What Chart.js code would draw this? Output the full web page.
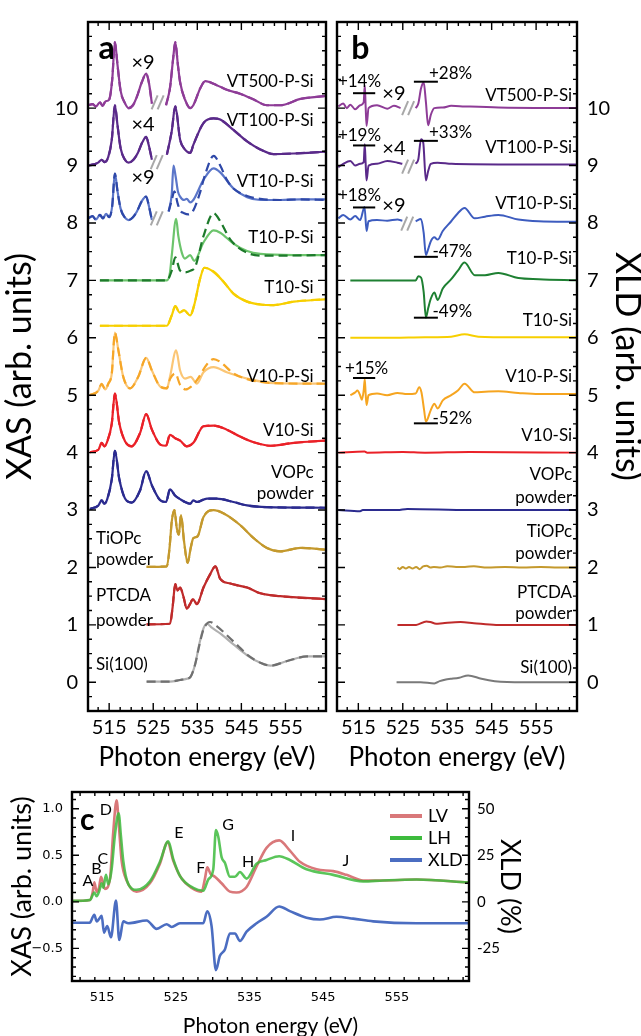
<!DOCTYPE html>
<html>
<head>
<meta charset="utf-8">
<script src="https://cdn.jsdelivr.net/npm/chart.js@4.4.0/dist/chart.umd.min.js"></script>
<style>
  body { margin: 0; background: #fff; width: 641px; height: 1036px; position: relative; overflow: hidden; }
  canvas { position: absolute; }
</style>
</head>
<body>
<canvas id="chartA" width="332" height="775" style="left:0;top:0;width:332px;height:775px"></canvas>
<canvas id="chartB" width="309" height="775" style="left:332px;top:0;width:309px;height:775px"></canvas>
<canvas id="chartC" width="641" height="261" style="left:0;top:775px;width:641px;height:261px"></canvas>
<script>
const FAM = 'Lato, "Open Sans", sans-serif';

// axis ticks
const energyTicks = [515, 525, 535, 545, 555];
const stackTicks = [0, 1, 2, 3, 4, 5, 6, 7, 8, 9, 10];
const xasTicksC = [-0.5, 0, 0.5, 1.0];
const xldTicksC = [-25, 0, 25, 50];

// ---------- panel a: XAS, solid / dashed, stacked by offset ----------
// VT500-P-Si (offset 10): pre-edge (x9) and edge parts
const vt500E1 = [510.3, 511.2, 512.0, 512.9, 513.5, 514.2, 515.0, 515.7, 516.3, 516.9, 517.6, 518.5, 519.4, 520.4, 521.3, 522.4, 523.4, 524.0, 524.7];
const vt500A1 = [0.05, 0.07, 0.03, 0.10, 0.04, 0.12, 0.15, 0.50, 1.15, 0.75, 0.30, 0.10, 0.00, 0.05, 0.20, 0.45, 0.60, 0.45, 0.08];
const vt500E2 = [527.9, 528.8, 529.5, 530.0, 530.6, 531.1, 532.2, 533.4, 534.1, 535.7, 536.8, 539.4, 541.7, 544.7, 547.8, 550.8, 553.8, 558.4, 564.0];
const vt500A2 = [0.05, 0.35, 0.85, 1.15, 0.75, 0.45, 0.15, 0.00, 0.05, 0.35, 0.47, 0.40, 0.32, 0.25, 0.15, 0.05, 0.05, 0.16, 0.21];
// VT100-P-Si (offset 9)
const vt100E1 = [510.3, 511.5, 512.5, 513.3, 514.0, 514.8, 515.6, 516.3, 516.9, 517.6, 518.6, 519.4, 520.5, 521.5, 522.5, 523.4, 524.0, 524.7];
const vt100A1 = [0.00, 0.02, 0.05, 0.10, 0.06, 0.15, 0.45, 1.05, 0.70, 0.30, 0.10, 0.05, 0.10, 0.22, 0.40, 0.50, 0.35, 0.10];
const vt100E2 = [528.1, 529.2, 530.0, 531.1, 532.0, 533.4, 534.1, 536.4, 538.7, 540.2, 543.2, 546.3, 549.3, 552.3, 556.9, 564.0];
const vt100A2 = [0.19, 0.60, 1.03, 0.45, 0.30, 0.22, 0.36, 0.74, 0.82, 0.80, 0.62, 0.42, 0.28, 0.20, 0.21, 0.24];
// VT10-P-Si (offset 8)
const vt10E1 = [510.3, 511.2, 512.0, 512.9, 513.6, 514.3, 515.0, 515.7, 516.3, 516.9, 517.6, 518.5, 519.4, 520.4, 521.3, 522.4, 523.4, 524.0, 524.7];
const vt10A1 = [0.08, 0.12, 0.06, 0.14, 0.08, 0.16, 0.10, 0.30, 0.86, 0.55, 0.25, 0.10, 0.05, 0.10, 0.20, 0.38, 0.46, 0.30, 0.05];
const vt10E2 = [528.5, 529.2, 529.6, 530.1, 530.6, 531.1, 532.0, 532.6, 533.4, 534.1, 536.4, 538.7, 540.2, 543.2, 546.3, 549.3, 553.8, 558.4, 564.0];
const vt10Solid = [0.20, 0.50, 1.00, 0.80, 0.55, 0.46, 0.40, 0.42, 0.36, 0.40, 0.75, 0.95, 0.88, 0.60, 0.45, 0.40, 0.40, 0.41, 0.41];
const vt10E3 = [528.5, 529.2, 529.8, 530.5, 531.1, 532.0, 533.0, 534.1, 535.5, 536.8, 538.7, 540.2, 541.7, 543.2, 546.3, 549.3, 553.8, 558.4, 564.0];
const vt10Dash = [0.20, 0.40, 0.55, 0.35, 0.22, 0.17, 0.15, 0.22, 0.50, 0.85, 1.17, 1.00, 0.75, 0.60, 0.47, 0.42, 0.40, 0.41, 0.40];
// T10-P-Si (offset 7)
const t10pE1 = [512.9, 520.0, 528.1, 528.8, 529.2, 530.2, 530.7, 531.5, 532.2, 533.4, 534.3, 536.4, 538.7, 540.2, 543.2, 546.3, 549.3, 556.9, 564.0];
const t10pSolid = [0, 0, 0, 0.14, 0.43, 1.07, 0.77, 0.48, 0.38, 0.44, 0.34, 0.66, 0.87, 0.83, 0.64, 0.51, 0.46, 0.44, 0.44];
const t10pE2 = [512.9, 520.0, 528.1, 529.2, 530.0, 531.1, 532.2, 533.5, 534.5, 536.4, 538.7, 540.2, 542.5, 546.3, 550.8, 564.0];
const t10pDash = [0, 0, 0, 0.17, 0.40, 0.17, 0.14, 0.17, 0.23, 0.77, 1.17, 1.03, 0.71, 0.48, 0.43, 0.44];
// T10-Si (offset 6)
const t10E = [512.9, 528.1, 529.2, 530.0, 531.0, 532.0, 533.4, 534.3, 535.6, 536.6, 538.7, 541.0, 543.2, 546.3, 549.3, 552.3, 556.9, 564.0];
const t10A = [0.21, 0.21, 0.39, 0.55, 0.44, 0.48, 0.39, 0.57, 1.02, 1.22, 1.15, 0.97, 0.77, 0.63, 0.58, 0.57, 0.63, 0.67];
// V10-P-Si (offset 5)
const v10pE1 = [510.65, 512.55, 513.3, 514.1, 514.8, 515.6, 516.3, 517.1, 518.2, 519.75, 521.6, 523.4, 524.7, 526.6, 528.1, 528.8, 530.2, 531.1, 532.2, 533.5, 534.9, 536.4, 538.7, 541.7, 546.3, 552.3, 564.0];
const v10pSolid = [0, 0.08, 0.20, 0.10, 0.20, 0.38, 1.09, 0.78, 0.32, 0.12, 0.32, 0.65, 0.43, 0.15, 0.12, 0.32, 0.78, 0.43, 0.29, 0.32, 0.20, 0.40, 0.49, 0.40, 0.29, 0.21, 0.20];
const v10pE2 = [510.65, 512.55, 513.3, 514.1, 514.8, 515.6, 516.3, 517.1, 518.2, 519.75, 521.6, 523.4, 524.7, 526.6, 528.1, 528.8, 530.0, 531.1, 532.4, 533.6, 534.9, 537.2, 538.7, 540.2, 543.2, 546.3, 552.3, 564.0];
const v10pDash = [0, 0.08, 0.20, 0.10, 0.20, 0.38, 1.09, 0.78, 0.32, 0.12, 0.32, 0.65, 0.43, 0.15, 0.12, 0.28, 0.38, 0.18, 0.10, 0.15, 0.26, 0.54, 0.63, 0.58, 0.38, 0.28, 0.21, 0.20];
// V10-Si (offset 4)
const v10E = [510.65, 512.55, 513.3, 513.9, 514.6, 515.6, 516.3, 517.3, 518.6, 520.1, 522.0, 523.4, 524.7, 526.6, 527.9, 528.8, 530.0, 531.1, 532.6, 534.1, 536.4, 538.7, 541.7, 544.7, 547.8, 551.6, 556.9, 564.0];
const v10A = [0.01, 0.05, 0.17, 0.11, 0.20, 0.51, 1.03, 0.51, 0.20, 0.11, 0.34, 0.67, 0.40, 0.14, 0.12, 0.31, 0.25, 0.21, 0.11, 0.17, 0.46, 0.47, 0.40, 0.28, 0.18, 0.12, 0.17, 0.21];
// VOPc powder (offset 3)
const vopcE = [510.65, 512.55, 513.3, 513.9, 514.6, 515.6, 516.3, 517.3, 518.6, 520.1, 522.0, 523.4, 524.7, 526.6, 527.9, 528.8, 530.0, 531.3, 532.2, 533.4, 534.1, 534.9, 537.2, 539.4, 543.2, 546.3, 550.8, 564.0];
const vopcA = [0.02, 0.08, 0.17, 0.11, 0.20, 0.54, 1.03, 0.54, 0.20, 0.13, 0.34, 0.68, 0.43, 0.17, 0.14, 0.36, 0.25, 0.18, 0.14, 0.11, 0.17, 0.14, 0.20, 0.20, 0.14, 0.08, 0.05, 0.04];
// TiOPc powder (offset 2)
const tiopcE = [523.5, 528.1, 528.7, 529.2, 529.8, 530.35, 530.8, 531.3, 532.0, 532.8, 533.5, 534.1, 535.05, 536.4, 538.7, 541.0, 544.7, 547.8, 550.8, 553.8, 558.4, 564.0];
const tiopcA = [0.01, 0.02, 0.34, 0.80, 1.00, 0.68, 0.57, 0.91, 0.45, 0.08, 0.34, 0.51, 0.54, 0.88, 1.00, 0.94, 0.74, 0.51, 0.34, 0.28, 0.34, 0.31];
// PTCDA powder (offset 1)
const ptcdaE = [523.5, 528.8, 529.4, 530.0, 530.5, 531.1, 531.9, 532.6, 533.4, 534.0, 534.9, 536.4, 537.9, 539.1, 540.2, 542.5, 544.7, 546.3, 549.3, 553.8, 564.0];
const ptcdaA = [0.01, 0.02, 0.31, 0.71, 0.60, 0.65, 0.48, 0.28, 0.37, 0.45, 0.36, 0.65, 0.88, 1.02, 0.80, 0.72, 0.68, 0.65, 0.55, 0.50, 0.45];
// Si(100) (offset 0)
const siE1 = [523.5, 528.8, 531.1, 532.5, 533.5, 534.5, 535.5, 536.4, 537.2, 538.3, 540.2, 543.2, 546.3, 549.3, 551.6, 555.4, 559.9, 564.0];
const siSolid = [0.01, 0.01, 0.04, 0.06, 0.10, 0.31, 0.68, 0.94, 1.02, 0.95, 0.85, 0.66, 0.47, 0.34, 0.29, 0.37, 0.45, 0.45];
const siE2 = [523.5, 528.8, 531.1, 532.5, 533.5, 534.5, 535.5, 536.4, 537.9, 539.4, 541.7, 544.7, 546.3, 549.3, 551.6, 555.4, 559.9, 564.0];
const siDash = [0.01, 0.01, 0.04, 0.06, 0.10, 0.31, 0.66, 0.92, 1.05, 0.98, 0.82, 0.60, 0.48, 0.34, 0.29, 0.37, 0.45, 0.45];

// ---------- panel b: XLD, stacked by offset ----------
const vt500XE1 = [510.5, 511.6, 512.4, 513.2, 514.3, 515.4, 516.2, 516.45, 516.65, 516.85, 517.3, 519.2, 521.5, 523.0, 524.5];
const vt500X1 = [0.03, 0.08, 0.00, 0.06, -0.02, 0.05, 0.10, 0.40, 0.02, -0.31, 0.00, 0.05, -0.01, 0.04, 0.00];
const vt500XE2 = [527.9, 528.5, 529.1, 529.7, 530.2, 530.7, 531.3, 532.1, 534.0, 535.9, 538.9, 546.5, 564.2];
const vt500X2 = [0.00, 0.08, 0.34, 0.45, 0.11, -0.30, -0.12, 0.00, 0.01, 0.04, 0.03, 0.01, 0.00];
const vt100XE1 = [510.5, 511.6, 513.2, 514.3, 515.4, 516.2, 516.45, 516.65, 516.85, 517.3, 519.2, 521.5, 523.8, 524.9];
const vt100X1 = [-0.03, 0.03, 0.08, 0.00, 0.03, 0.06, 0.37, 0.03, -0.26, 0.00, 0.03, 0.08, 0.05, 0.03];
const vt100XE2 = [527.9, 528.5, 529.1, 529.6, 530.2, 530.7, 531.3, 532.8, 536.0, 546.5, 564.2];
const vt100X2 = [0.03, 0.11, 0.46, 0.40, -0.26, -0.10, 0.03, 0.05, 0.03, 0.02, 0.02];
const vt10XE1 = [510.5, 511.6, 513.2, 514.3, 515.4, 516.4, 516.85, 517.3, 519.2, 521.5, 523.8, 524.9];
const vt10X1 = [0.08, 0.14, 0.06, 0.12, 0.05, 0.28, -0.14, 0.03, 0.05, 0.04, 0.06, 0.04];
const vt10XE2 = [527.9, 529.1, 529.7, 530.2, 530.7, 531.3, 532.1, 532.85, 534.0, 535.9, 537.4, 538.9, 541.2, 543.5, 546.5, 551.0, 555.6, 564.2];
const vt10X2 = [0.03, 0.07, -0.17, -0.56, -0.46, -0.32, -0.25, -0.29, -0.14, 0.03, 0.17, 0.26, 0.08, 0.11, 0.14, 0.06, 0.03, 0.02];
const t10pXE = [513.2, 527.9, 528.5, 529.1, 529.7, 530.2, 530.7, 531.3, 532.1, 532.85, 534.0, 535.9, 537.4, 538.9, 541.2, 543.5, 546.5, 551.0, 555.6, 564.2];
const t10pX = [0, 0, 0.07, 0.05, -0.20, -0.65, -0.49, -0.32, -0.21, -0.34, -0.14, 0.02, 0.17, 0.31, 0.09, 0.09, 0.13, 0.04, 0.02, 0.00];
const t10XE = [513.2, 520.0, 530.0, 535.9, 538.9, 542.0, 550.0, 564.2];
const t10X = [0, 0, 0.01, 0.02, 0.06, 0.02, 0.01, 0.01];
const v10pXE = [513.2, 514.3, 514.8, 515.4, 515.8, 516.2, 516.45, 516.65, 516.85, 517.3, 519.2, 521.5, 523.8, 526.0, 527.9, 528.7, 529.2, 529.8, 530.2, 531.3, 532.1, 532.85, 534.0, 535.9, 537.4, 538.9, 541.2, 543.5, 546.5, 551.0, 555.6, 564.2];
const v10pX = [0, 0.05, 0.08, 0.00, -0.08, 0.08, 0.28, 0.02, -0.17, 0, 0.03, 0.00, 0.04, 0.02, 0.03, 0.14, 0.05, -0.26, -0.46, -0.26, -0.15, -0.23, -0.09, 0.00, 0.08, 0.20, 0.05, 0.06, 0.07, 0.04, 0.02, 0.02];
const v10XE = [510.5, 516.4, 517.0, 525.0, 530.0, 540.0, 564.2];
const v10X = [0, 0.02, 0.00, 0.01, 0.00, 0.01, 0.00];
const vopcXE = [510.5, 515.4, 516.0, 523.8, 526.0, 540.0, 564.2];
const vopcX = [0, -0.02, 0.00, 0.00, 0.02, 0.00, 0.00];
const tiopcXE = [523.8, 524.3, 525.0, 525.7, 526.4, 527.2, 528.0, 528.8, 529.6, 530.4, 531.2, 532.0, 533.5, 535.0, 537.0, 539.0, 541.0, 544.0, 548.0, 552.0, 556.0, 560.0, 564.2];
const tiopcX = [0, -0.03, 0.01, -0.02, 0.01, -0.02, 0.01, -0.03, 0.02, 0.03, 0.00, 0.01, 0.00, 0.02, 0.01, 0.01, 0.02, 0.00, 0.01, 0.00, 0.01, 0.00, 0.00];
const ptcdaXE = [523.8, 528.0, 530.3, 531.2, 532.5, 534.0, 538.0, 541.0, 546.0, 564.2];
const ptcdaX = [0, 0.00, 0.06, 0.05, 0.02, 0.03, 0.05, 0.03, 0.00, 0.00];
const siXE = [523.6, 529.0, 532.1, 533.3, 534.7, 535.8, 537.7, 539.7, 542.7, 545.7, 552.0, 564.2];
const siX = [0, 0, -0.02, 0.02, 0.05, 0.06, 0.08, 0.12, 0.06, 0.02, 0.00, 0.00];

// ---------- panel c: VOPc LV / LH (XAS) and XLD (%) ----------
const lvE = [510.9, 513.34, 513.7, 513.93, 514.25, 514.56, 514.84, 515.38, 516.06, 516.5, 516.96, 517.28, 517.64, 518.32, 519.67, 521.48, 522.84, 523.88, 524.65, 525.78, 527.14, 528.49, 528.95, 529.26, 529.72, 530.3, 531.21, 532.34, 533.24, 534.6, 535.96, 537.31, 539.03, 540.48, 541.84, 544.1, 546.36, 548.17, 550.43, 553.14, 557.67, 564.68];
const lvA = [0.01, 0.02, 0.10, 0.21, 0.11, 0.15, 0.27, 0.14, 0.25, 0.75, 1.09, 0.80, 0.44, 0.23, 0.11, 0.20, 0.41, 0.64, 0.44, 0.25, 0.15, 0.11, 0.25, 0.37, 0.30, 0.27, 0.20, 0.11, 0.10, 0.16, 0.38, 0.58, 0.66, 0.55, 0.43, 0.35, 0.33, 0.29, 0.23, 0.23, 0.24, 0.21];
const lhE = [510.9, 513.34, 513.93, 514.25, 514.61, 514.93, 515.15, 515.51, 515.83, 516.28, 516.73, 517.23, 517.55, 517.86, 518.54, 519.67, 521.48, 522.84, 523.97, 524.65, 525.55, 527.36, 528.72, 529.4, 530.08, 530.44, 530.76, 531.21, 531.66, 532.34, 533.02, 533.7, 534.6, 535.96, 537.31, 539.03, 540.48, 542.74, 546.36, 550.43, 553.14, 557.67, 564.68];
const lhA = [0.01, 0.02, 0.10, 0.06, 0.12, 0.20, 0.15, 0.29, 0.19, 0.35, 0.72, 0.95, 0.70, 0.44, 0.19, 0.13, 0.22, 0.43, 0.65, 0.46, 0.28, 0.15, 0.12, 0.24, 0.35, 0.77, 0.70, 0.48, 0.42, 0.27, 0.27, 0.32, 0.25, 0.41, 0.45, 0.49, 0.45, 0.35, 0.29, 0.22, 0.23, 0.24, 0.21];
const xldE = [510.9, 513.3, 513.93, 514.25, 514.61, 514.93, 515.24, 515.69, 516.19, 516.87, 517.32, 517.86, 518.54, 521.03, 522.39, 523.75, 524.42, 525.55, 528.72, 529.26, 529.85, 530.44, 530.98, 531.66, 532.34, 533.02, 533.7, 534.6, 535.96, 537.31, 539.03, 540.48, 542.74, 544.55, 546.81, 549.07, 551.79, 557.67, 564.68];
const xldPct = [-11.2, -11.2, -6.9, -10.5, -9.0, -7.5, -16.5, -13.0, -19.0, 0.7, -20.5, -10.5, -11.5, -10.0, -14.5, -12.0, -13.5, -11.5, -11.5, -5.1, -13.0, -36.7, -29.0, -25.6, -17.0, -17.0, -21.0, -16.0, -11.5, -8.0, -2.5, -5.0, -8.5, -9.5, -8.0, -9.0, -10.5, -11.5, -11.5];

// ---------- helpers ----------
function pts(E, v, off) {
  return E.map((e, i) => ({ x: e, y: v[i] + off }));
}
function line(E, v, off, color, dashed, width, order) {
  return {
    data: pts(E, v, off),
    borderColor: color,
    borderWidth: width || 2.2,
    borderDash: dashed ? [9, 5] : [],
    pointRadius: 0,
    tension: 0.35,
    cubicInterpolationMode: 'monotone',
    fill: false,
    order: order || 0,
  };
}
function tickList(from, to, step, majors, long, short) {
  const out = [];
  for (let v = from; v <= to + 1e-9; v += step) {
    const r = Math.round(v * 1000) / 1000;
    out.push([r, majors.some(m => Math.abs(m - r) < 1e-6) ? long : short]);
  }
  return out;
}

// inward ticks on all four sides plus the box
function frame(xTicks, yTicks) {
  return {
    id: 'frame',
    afterDatasetsDraw(chart) {
      const { ctx, chartArea: a } = chart;
      const xs = chart.scales.x, ys = chart.scales.y;
      ctx.save();
      ctx.strokeStyle = '#000';
      ctx.lineWidth = 1.4;
      ctx.beginPath();
      xTicks.forEach(([v, len]) => {
        const p = xs.getPixelForValue(v);
        ctx.moveTo(p, a.bottom); ctx.lineTo(p, a.bottom - len);
        ctx.moveTo(p, a.top); ctx.lineTo(p, a.top + len);
      });
      yTicks.forEach(([v, len]) => {
        const p = ys.getPixelForValue(v);
        ctx.moveTo(a.left, p); ctx.lineTo(a.left + len, p);
        ctx.moveTo(a.right, p); ctx.lineTo(a.right - len, p);
      });
      ctx.stroke();
      ctx.lineWidth = 2.4;
      ctx.strokeRect(a.left, a.top, a.width, a.height);
      ctx.restore();
    }
  };
}

// text, percent bars and "//" break marks placed in data coordinates
function notes(texts, bars, breaks) {
  return {
    id: 'notes',
    afterDatasetsDraw(chart) {
      const ctx = chart.ctx;
      ctx.save();
      ctx.textBaseline = 'middle';
      texts.forEach(n => {
        const xs = chart.scales.x, ys = chart.scales[n.axis || 'y'];
        ctx.font = n.font;
        ctx.fillStyle = '#000';
        ctx.textAlign = n.align || 'left';
        ctx.fillText(n.text, xs.getPixelForValue(n.x), ys.getPixelForValue(n.y));
      });
      ctx.strokeStyle = '#000';
      ctx.lineWidth = 2;
      bars.forEach(b => {
        const y = chart.scales.y.getPixelForValue(b[2]);
        ctx.beginPath();
        ctx.moveTo(chart.scales.x.getPixelForValue(b[0]), y);
        ctx.lineTo(chart.scales.x.getPixelForValue(b[1]), y);
        ctx.stroke();
      });
      ctx.strokeStyle = '#a8a8a8';
      ctx.lineWidth = 2;
      breaks.forEach(b => {
        const cx = chart.scales.x.getPixelForValue(b[0]);
        const cy = chart.scales.y.getPixelForValue(b[1]);
        [-3, 3].forEach(dx => {
          ctx.beginPath();
          ctx.moveTo(cx + dx - 3, cy + 7);
          ctx.lineTo(cx + dx + 3, cy - 7);
          ctx.stroke();
        });
      });
      ctx.restore();
    }
  };
}

const labFont = '17px ' + FAM;
const multFont = '20px ' + FAM;
const pctFont = '17px ' + FAM;

// ---------- panel a ----------
const colA = {
  vt500: '#8e3c97', vt100: '#5a2a8a', vt10s: '#5b76c9', vt10d: '#2e48a8',
  t10ps: '#6cc46c', t10pd: '#1d7a2b', t10: '#f7cf00', v10ps: '#fbc675', v10pd: '#f6a628',
  v10: '#ea2128', vopc: '#2b2b8f', tiopc: '#c4992d', ptcda: '#bf2b2b', sis: '#b0b0b0', sid: '#707070'
};

const dsA = [
  line(vt500E1, vt500A1, 10, colA.vt500, false, 2.2, 1), line(vt500E1, vt500A1, 10, colA.vt500, true, 2.2, 0),
  line(vt500E2, vt500A2, 10, colA.vt500, false, 2.2, 1), line(vt500E2, vt500A2, 10, colA.vt500, true, 2.2, 0),
  line(vt100E1, vt100A1, 9, colA.vt100, false, 2.2, 1), line(vt100E1, vt100A1, 9, colA.vt100, true, 2.2, 0),
  line(vt100E2, vt100A2, 9, colA.vt100, false, 2.2, 1), line(vt100E2, vt100A2, 9, colA.vt100, true, 2.2, 0),
  line(vt10E1, vt10A1, 8, colA.vt10s, false, 2.2, 1), line(vt10E1, vt10A1, 8, colA.vt10d, true, 2.2, 0),
  line(vt10E2, vt10Solid, 8, colA.vt10s, false, 2.2, 1), line(vt10E3, vt10Dash, 8, colA.vt10d, true, 2.2, 0),
  line(t10pE1, t10pSolid, 7, colA.t10ps, false, 2.2, 1), line(t10pE2, t10pDash, 7, colA.t10pd, true, 2.2, 0),
  line(t10E, t10A, 6, colA.t10, false, 2.2, 1), line(t10E, t10A, 6, colA.t10, true, 2.2, 0),
  line(v10pE1, v10pSolid, 5, colA.v10ps, false, 2.2, 1), line(v10pE2, v10pDash, 5, colA.v10pd, true, 2.2, 0),
  line(v10E, v10A, 4, colA.v10, false, 2.2, 1), line(v10E, v10A, 4, colA.v10, true, 2.2, 0),
  line(vopcE, vopcA, 3, colA.vopc, false, 2.2, 1), line(vopcE, vopcA, 3, colA.vopc, true, 2.2, 0),
  line(tiopcE, tiopcA, 2, colA.tiopc, false, 2.2, 1), line(tiopcE, tiopcA, 2, colA.tiopc, true, 2.2, 0),
  line(ptcdaE, ptcdaA, 1, colA.ptcda, false, 2.2, 1), line(ptcdaE, ptcdaA, 1, colA.ptcda, true, 2.2, 0),
  line(siE1, siSolid, 0, colA.sis, false, 2.2, 1), line(siE2, siDash, 0, colA.sid, true, 2.2, 0),
];

const textA = [
  { text: 'a', x: 512.6, y: 11.03, font: 'bold 32px ' + FAM },
  { text: '\u00d79', x: 522.7, y: 10.8, font: multFont, align: 'center' },
  { text: '\u00d74', x: 522.7, y: 9.72, font: multFont, align: 'center' },
  { text: '\u00d79', x: 522.7, y: 8.79, font: multFont, align: 'center' },
  { text: 'VT500-P-Si', x: 561.4, y: 10.46, font: labFont, align: 'right' },
  { text: 'VT100-P-Si', x: 561.4, y: 9.79, font: labFont, align: 'right' },
  { text: 'VT10-P-Si', x: 561.4, y: 8.73, font: labFont, align: 'right' },
  { text: 'T10-P-Si', x: 561.4, y: 7.74, font: labFont, align: 'right' },
  { text: 'T10-Si', x: 561.4, y: 6.88, font: labFont, align: 'right' },
  { text: 'V10-P-Si', x: 561.4, y: 5.33, font: labFont, align: 'right' },
  { text: 'V10-Si', x: 561.4, y: 4.39, font: labFont, align: 'right' },
  { text: 'VOPc', x: 561.4, y: 3.65, font: labFont, align: 'right' },
  { text: 'powder', x: 561.4, y: 3.28, font: labFont, align: 'right' },
  { text: 'TiOPc', x: 512.0, y: 2.50, font: labFont },
  { text: 'powder', x: 512.0, y: 2.14, font: labFont },
  { text: 'PTCDA', x: 512.0, y: 1.51, font: labFont },
  { text: 'powder', x: 512.0, y: 1.08, font: labFont },
  { text: 'Si(100)', x: 512.0, y: 0.31, font: labFont },
];
const breaksA = [[526.0, 10.1], [525.8, 9.06], [525.8, 8.08]];

const stackX = (h) => ({
  type: 'linear', min: 510.2, max: 564.2,
  afterBuildTicks: s => { s.ticks = energyTicks.map(v => ({ value: v })); },
  afterFit: s => { s.height = h; },
  grid: { display: false, drawTicks: false }, border: { display: false },
  ticks: { color: '#000', font: { family: FAM, size: 20 }, padding: 5, maxRotation: 0, autoSkip: false },
  title: { display: true, text: 'Photon energy (eV)', color: '#000', font: { family: FAM, size: 26 }, padding: { top: 0, bottom: 2 } },
});
const stackY = (pos, w, title, tPad) => ({
  type: 'linear', position: pos, min: -0.5, max: 11.5,
  afterBuildTicks: s => { s.ticks = stackTicks.map(v => ({ value: v })); },
  afterFit: s => { s.width = w; },
  grid: { display: false, drawTicks: false }, border: { display: false },
  ticks: { color: '#000', font: { family: FAM, size: 20 }, padding: 10 },
  title: { display: true, text: title, color: '#000', font: { family: FAM, size: 34 }, padding: { top: tPad, bottom: 0 } },
});

const xTickAB = tickList(512.5, 562.5, 2.5, energyTicks, 8, 4);
const yTickAB = tickList(-0.25, 11.25, 0.25, stackTicks, 8, 4);

new Chart(document.getElementById('chartA'), {
  type: 'line',
  data: { datasets: dsA },
  options: {
    responsive: false, animation: false,
    layout: { padding: { left: 0, top: 12, right: 6, bottom: 0 } },
    plugins: { legend: { display: false }, tooltip: { enabled: false } },
    scales: { x: stackX(64), y: stackY('left', 88, 'XAS (arb. units)', 0) },
  },
  plugins: [frame(xTickAB, yTickAB), notes(textA, [], breaksA)],
});

// ---------- panel b ----------
const colB = {
  vt500: '#8e3c97', vt100: '#5a2a8a', vt10: '#3d5cbf', t10p: '#1e8032', t10: '#f7cf00',
  v10p: '#f6a520', v10: '#ea2128', vopc: '#2b2b8f', tiopc: '#c4992d', ptcda: '#bf2b2b', si: '#7a7a7a'
};
const dsB = [
  line(vt500XE1, vt500X1, 10, colB.vt500, false, 2), line(vt500XE2, vt500X2, 10, colB.vt500, false, 2),
  line(vt100XE1, vt100X1, 9, colB.vt100, false, 2), line(vt100XE2, vt100X2, 9, colB.vt100, false, 2),
  line(vt10XE1, vt10X1, 8, colB.vt10, false, 2), line(vt10XE2, vt10X2, 8, colB.vt10, false, 2),
  line(t10pXE, t10pX, 7, colB.t10p, false, 2),
  line(t10XE, t10X, 6, colB.t10, false, 2),
  line(v10pXE, v10pX, 5, colB.v10p, false, 2),
  line(v10XE, v10X, 4, colB.v10, false, 2),
  line(vopcXE, vopcX, 3, colB.vopc, false, 2),
  line(tiopcXE, tiopcX, 2, colB.tiopc, false, 2),
  line(ptcdaXE, ptcdaX, 1, colB.ptcda, false, 2),
  line(siXE, siX, 0, colB.si, false, 2),
];
const textB = [
  { text: 'b', x: 513.4, y: 11.03, font: 'bold 32px ' + FAM },
  { text: '+14%', x: 510.4, y: 10.47, font: pctFont },
  { text: '+28%', x: 530.9, y: 10.6, font: pctFont },
  { text: '\u00d79', x: 520.4, y: 10.25, font: multFont },
  { text: '+19%', x: 510.4, y: 9.53, font: pctFont },
  { text: '+33%', x: 530.9, y: 9.57, font: pctFont },
  { text: '\u00d74', x: 520.4, y: 9.29, font: multFont },
  { text: '+18%', x: 510.4, y: 8.48, font: pctFont },
  { text: '\u00d79', x: 520.4, y: 8.31, font: multFont },
  { text: '-47%', x: 531.7, y: 7.51, font: pctFont },
  { text: '-49%', x: 531.7, y: 6.45, font: pctFont },
  { text: '+15%', x: 512.0, y: 5.46, font: pctFont },
  { text: '-52%', x: 531.7, y: 4.6, font: pctFont },
  { text: 'VT500-P-Si', x: 563.1, y: 10.22, font: labFont, align: 'right' },
  { text: 'VT100-P-Si', x: 563.1, y: 9.31, font: labFont, align: 'right' },
  { text: 'VT10-P-Si', x: 563.1, y: 8.34, font: labFont, align: 'right' },
  { text: 'T10-P-Si', x: 563.1, y: 7.38, font: labFont, align: 'right' },
  { text: 'T10-Si', x: 563.1, y: 6.3, font: labFont, align: 'right' },
  { text: 'V10-P-Si', x: 563.1, y: 5.32, font: labFont, align: 'right' },
  { text: 'V10-Si', x: 563.1, y: 4.29, font: labFont, align: 'right' },
  { text: 'VOPc', x: 563.1, y: 3.62, font: labFont, align: 'right' },
  { text: 'powder', x: 563.1, y: 3.22, font: labFont, align: 'right' },
  { text: 'TiOPc', x: 563.1, y: 2.62, font: labFont, align: 'right' },
  { text: 'powder', x: 563.1, y: 2.25, font: labFont, align: 'right' },
  { text: 'PTCDA', x: 563.1, y: 1.56, font: labFont, align: 'right' },
  { text: 'powder', x: 563.1, y: 1.20, font: labFont, align: 'right' },
  { text: 'Si(100)', x: 563.1, y: 0.26, font: labFont, align: 'right' },
];
const barsB = [
  [513.8, 518.8, 10.26], [527.5, 532.9, 10.46],
  [513.8, 518.8, 9.35], [527.5, 532.9, 9.43],
  [513.8, 518.8, 8.27], [527.5, 532.9, 7.41],
  [527.5, 532.9, 6.35], [513.8, 518.8, 5.30], [527.5, 532.9, 4.51],
];
const breaksB = [[526.2, 10.0], [526.2, 8.98], [526.0, 7.99]];

new Chart(document.getElementById('chartB'), {
  type: 'line',
  data: { datasets: dsB },
  options: {
    responsive: false, animation: false,
    layout: { padding: { left: 5, top: 12, right: 0, bottom: 0 } },
    plugins: { legend: { display: false }, tooltip: { enabled: false } },
    scales: { x: stackX(64), y: stackY('right', 64, 'XLD (arb. units)', -6) },
  },
  plugins: [frame(xTickAB, yTickAB), notes(textB, barsB, breaksB)],
});

// ---------- panel c ----------
const colC = { lv: '#d9787a', lh: '#3dbb3d', xld: '#4b6dc1' };
const legendC = [['LV', colC.lv], ['LH', colC.lh], ['XLD', colC.xld]];
const dsC = [
  Object.assign(line(lvE, lvA, 0, colC.lv, false, 2.6, 2), { yAxisID: 'y' }),
  Object.assign(line(lhE, lhA, 0, 'rgba(61,187,61,0.85)', false, 2.6, 1), { yAxisID: 'y' }),
  Object.assign(line(xldE, xldPct, 0, colC.xld, false, 2.6, 0), { yAxisID: 'y1' }),
];
const letterFont = '16px ' + FAM;
const textC = [
  { text: 'c', x: 512.0, y: 0.88, font: 'bold 30px ' + FAM },
  { text: 'A', x: 513.07, y: 0.23, font: letterFont, align: 'center' },
  { text: 'B', x: 514.2, y: 0.35, font: letterFont, align: 'center' },
  { text: 'C', x: 515.1, y: 0.46, font: letterFont, align: 'center' },
  { text: 'D', x: 515.5, y: 0.99, font: letterFont, align: 'center' },
  { text: 'E', x: 525.4, y: 0.74, font: letterFont, align: 'center' },
  { text: 'F', x: 528.4, y: 0.37, font: letterFont, align: 'center' },
  { text: 'G', x: 532.1, y: 0.83, font: letterFont, align: 'center' },
  { text: 'H', x: 534.8, y: 0.43, font: letterFont, align: 'center' },
  { text: 'I', x: 540.9, y: 0.71, font: letterFont, align: 'center' },
  { text: 'J', x: 548.1, y: 0.44, font: letterFont, align: 'center' },
];
const legendPlugin = {
  id: 'legendC',
  afterDatasetsDraw(chart) {
    const { ctx, chartArea: a } = chart;
    ctx.save();
    ctx.font = '18px ' + FAM;
    ctx.textBaseline = 'middle';
    ctx.textAlign = 'left';
    legendC.forEach(([name, color], i) => {
      const y = a.top + 24 + i * 22;
      ctx.strokeStyle = color;
      ctx.lineWidth = 4;
      ctx.beginPath();
      ctx.moveTo(a.right - 79, y);
      ctx.lineTo(a.right - 47, y);
      ctx.stroke();
      ctx.fillStyle = '#000';
      ctx.fillText(name, a.right - 41, y);
    });
    ctx.restore();
  }
};

new Chart(document.getElementById('chartC'), {
  type: 'line',
  data: { datasets: dsC },
  options: {
    responsive: false, animation: false,
    layout: { padding: { left: 0, top: 14, right: 110, bottom: 0 } },
    plugins: { legend: { display: false }, tooltip: { enabled: false } },
    scales: {
      x: {
        type: 'linear', min: 510.9, max: 564.8,
        afterBuildTicks: s => { s.ticks = energyTicks.map(v => ({ value: v })); },
        afterFit: s => { s.height = 55; },
        grid: { display: false, drawTicks: false }, border: { display: false },
        ticks: { color: '#000', font: { family: '"DejaVu Sans"', size: 13 }, padding: 9, maxRotation: 0, autoSkip: false },
        title: { display: true, text: 'Photon energy (eV)', color: '#000', font: { family: FAM, size: 21 }, padding: { top: 0, bottom: -3 } },
      },
      y: {
        type: 'linear', position: 'left', min: -0.85, max: 1.18,
        afterBuildTicks: s => { s.ticks = xasTicksC.map(v => ({ value: v })); },
        afterFit: s => { s.width = 72; },
        grid: { display: false, drawTicks: false }, border: { display: false },
        ticks: { color: '#000', font: { family: '"DejaVu Sans"', size: 13 }, padding: 9,
          callback: v => v.toFixed(1).replace('-', '\u2212') },
        title: { display: true, text: 'XAS (arb. units)', color: '#000', font: { family: FAM, size: 27 }, padding: { top: 6, bottom: 0 } },
      },
      y1: {
        type: 'linear', position: 'right', min: -42.5, max: 59,
        afterBuildTicks: s => { s.ticks = xldTicksC.map(v => ({ value: v })); },
        afterFit: s => { s.width = 62; },
        grid: { display: false, drawTicks: false }, border: { display: false },
        ticks: { color: '#000', font: { family: FAM, size: 15 }, padding: 8, callback: v => String(v) },
        title: { display: true, text: 'XLD (%)', color: '#000', font: { family: FAM, size: 27 }, padding: { top: 5, bottom: 0 } },
      },
    },
  },
  plugins: [
    frame(tickList(512, 564, 2, energyTicks, 7, 4), tickList(-0.8, 1.1, 0.1, xasTicksC, 7, 4)),
    notes(textC, [], []),
    legendPlugin,
  ],
});
</script>
</body>
</html>
